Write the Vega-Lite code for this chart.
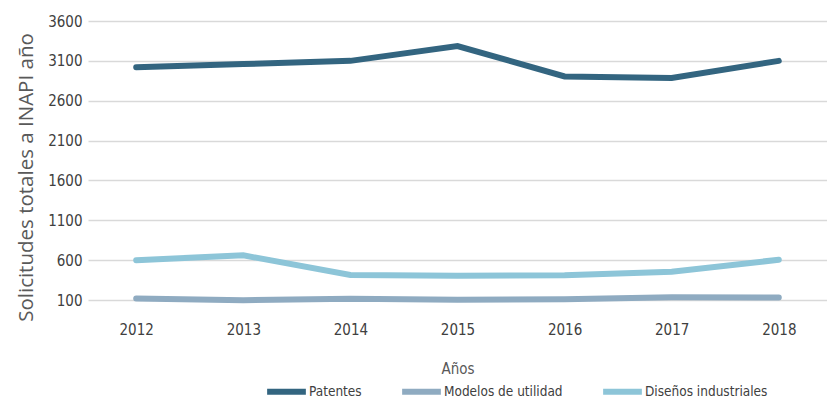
{
  "$schema": "https://vega.github.io/schema/vega-lite/v6.json",
  "autosize": "none",
  "width": 739,
  "height": 279,
  "padding": {"left": 88, "top": 21, "right": 0, "bottom": 100},
  "background": "white",
  "config": {
    "view": {"stroke": null},
    "font": "Liberation Sans Narrow, DejaVu Sans Condensed, sans-serif"
  },
  "data": {
    "values": [
      {"anio": "2012", "serie": "Patentes", "valor": 3020},
      {"anio": "2013", "serie": "Patentes", "valor": 3060},
      {"anio": "2014", "serie": "Patentes", "valor": 3100},
      {"anio": "2015", "serie": "Patentes", "valor": 3285},
      {"anio": "2016", "serie": "Patentes", "valor": 2905},
      {"anio": "2017", "serie": "Patentes", "valor": 2885},
      {"anio": "2018", "serie": "Patentes", "valor": 3100},
      {"anio": "2012", "serie": "Modelos de utilidad", "valor": 120},
      {"anio": "2013", "serie": "Modelos de utilidad", "valor": 97},
      {"anio": "2014", "serie": "Modelos de utilidad", "valor": 117},
      {"anio": "2015", "serie": "Modelos de utilidad", "valor": 104},
      {"anio": "2016", "serie": "Modelos de utilidad", "valor": 110},
      {"anio": "2017", "serie": "Modelos de utilidad", "valor": 134},
      {"anio": "2018", "serie": "Modelos de utilidad", "valor": 130},
      {"anio": "2012", "serie": "Diseños industriales", "valor": 600},
      {"anio": "2013", "serie": "Diseños industriales", "valor": 660},
      {"anio": "2014", "serie": "Diseños industriales", "valor": 415},
      {"anio": "2015", "serie": "Diseños industriales", "valor": 405},
      {"anio": "2016", "serie": "Diseños industriales", "valor": 410},
      {"anio": "2017", "serie": "Diseños industriales", "valor": 455},
      {"anio": "2018", "serie": "Diseños industriales", "valor": 605}
    ]
  },
  "mark": {"type": "line", "strokeWidth": 6, "strokeCap": "round", "strokeJoin": "miter"},
  "encoding": {
    "x": {
      "field": "anio",
      "type": "ordinal",
      "scale": {"type": "point", "padding": 0.45},
      "axis": {
        "title": "Años",
        "titleFontSize": 15,
        "titleFontWeight": "normal",
        "titleColor": "#595959",
        "titlePadding": 24,
        "labelAngle": 0,
        "labelFontSize": 15,
        "labelColor": "#404040",
        "labelPadding": 22,
        "ticks": false,
        "domain": false,
        "grid": false
      }
    },
    "y": {
      "field": "valor",
      "type": "quantitative",
      "scale": {"domain": [100, 3600], "nice": false, "zero": false},
      "axis": {
        "values": [100, 600, 1100, 1600, 2100, 2600, 3100, 3600],
        "format": "d",
        "title": "Solicitudes totales a INAPI año",
        "titleFont": "Open Sans, sans-serif",
        "titleFontSize": 20.5,
        "titleFontWeight": "normal",
        "titleColor": "#595959",
        "titleX": -62,
        "titleY": 156,
        "titleAlign": "center",
        "titleBaseline": "middle",
        "labelFontSize": 15,
        "labelColor": "#404040",
        "labelPadding": 6,
        "ticks": false,
        "domain": false,
        "grid": true,
        "gridColor": "#d9d9d9",
        "gridWidth": 1.5
      }
    },
    "color": {
      "field": "serie",
      "type": "nominal",
      "sort": ["Patentes", "Modelos de utilidad", "Diseños industriales"],
      "scale": {
        "domain": ["Patentes", "Modelos de utilidad", "Diseños industriales"],
        "range": ["#336580", "#8fabc1", "#8dc5d8"]
      },
      "legend": {
        "title": null,
        "orient": "none",
        "direction": "horizontal",
        "legendX": 176,
        "legendY": 348,
        "padding": 0,
        "symbolType": "stroke",
        "symbolSize": 1500,
        "symbolStrokeWidth": 6,
        "labelFontSize": 13.5,
        "labelColor": "#404040",
        "labelOffset": 0,
        "columnPadding": 28
      }
    }
  }
}
